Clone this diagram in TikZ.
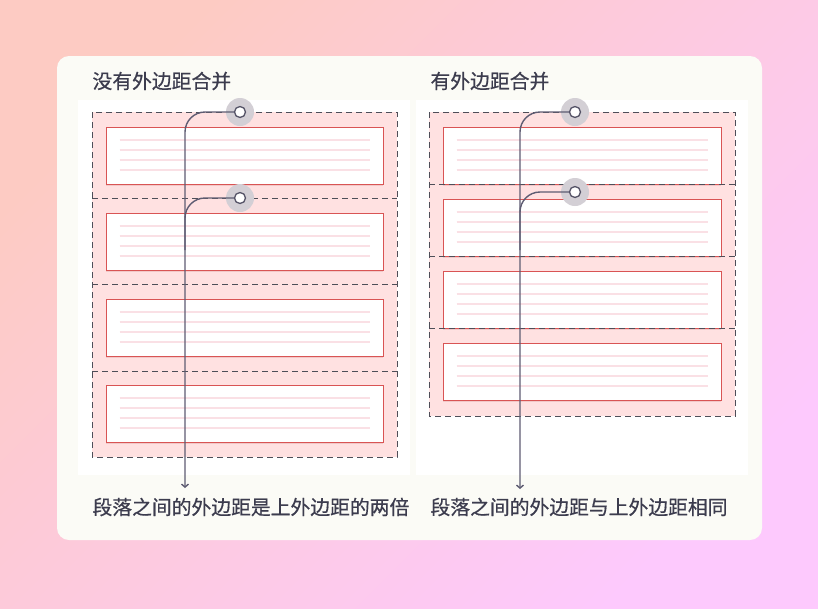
\documentclass[tikz,border=0pt]{standalone}
\usepackage{fontspec}
\newfontfamily\cjk[FakeBold=0.6]{Noto Sans CJK SC}
\usepackage{tikz}
\usetikzlibrary{arrows.meta, calc}
\usepackage{xcolor}
\definecolor{bgPeach}{HTML}{FDCBC3}
\definecolor{bgLilac}{HTML}{FDC9FD}
\definecolor{cardBg}{HTML}{FBFBF6}
\definecolor{marginPink}{HTML}{FFE1E1}
\definecolor{boxRed}{HTML}{D95454}
\definecolor{linePink}{RGB}{250,224,229}
\definecolor{shadowPink}{HTML}{F2C8C8}
\definecolor{dashGray}{HTML}{4E4E58}
\definecolor{haloGray}{HTML}{D3CFD5}
\definecolor{flowGray}{HTML}{5E5C72}
\definecolor{textDark}{HTML}{3C3C4E}
\tikzset{
    font=\cjk,
    >={Straight Barb[length=3pt, width=7pt]},
    % Areas
    panel/.style={fill=white},
    marginArea/.style={draw=dashGray, fill=marginPink, line width=1pt, dash pattern=on 6pt off 4pt},
    divider/.style={draw=dashGray, line width=1pt, dash pattern=on 6pt off 4pt},
    % Shapes
    paraBox/.style={rectangle, draw=boxRed, fill=white, line width=1pt, inner sep=0pt,
                    minimum width=277pt, minimum height=57pt,
                    preaction={fill=shadowPink, transform canvas={yshift=-2pt}}},
    textLine/.style={color=linePink, line width=2pt},
    halo/.style={circle, fill=haloGray, minimum size=28pt, inner sep=0pt},
    pin/.style={circle, draw=flowGray!90!black, fill=white, line width=1.3pt, minimum size=11pt, inner sep=0pt},
    % Flow & Labels
    flow/.style={draw=flowGray, line width=1.4pt, rounded corners=20pt},
    title/.style={anchor=west, text=textDark, font=\cjk\fontsize{19.8}{22}\selectfont},
    lbl/.style={anchor=west, text=textDark, font=\cjk\fontsize{19.8}{22}\selectfont}
}

\begin{document}
\begin{tikzpicture}[x=1pt, y=-1pt]
\useasboundingbox (0,0) rectangle (818,608);

% background and card
\shade[top color=bgPeach, bottom color=bgLilac, shading angle=45] (0,0) rectangle (818,608);
\fill[cardBg, rounded corners=12pt] (57,56) rectangle (762,540);
\fill[panel] (78,100) rectangle (410,475);
\fill[panel] (416,100) rectangle (748,475);

\node[title] (titleL) at (89,81) {没有外边距合并};
\node[title] (titleR) at (427,81) {有外边距合并};

% left: margins not collapsed
\draw[marginArea] (92,112) rectangle (397,457);
\foreach \i/\y in {1/155.5, 2/241.5, 3/327.5, 4/413.5}
    \node[paraBox] (pL\i) at (244.5,\y) {};
\foreach \y in {198, 284, 371}
    \draw[divider] (92,\y) -- (397,\y);

% right: margins collapsed
\draw[marginArea] (429,112) rectangle (735,416);
\foreach \i/\y in {1/155.5, 2/227.5, 3/299.5, 4/371.5}
    \node[paraBox, minimum width=278pt] (pR\i) at (582,\y) {};
\foreach \y in {184.5, 256.5, 328.5}
    \draw[divider] (429,\y) -- (735,\y);

% text lines
\foreach \s in {L,R}
  \foreach \i in {1,...,4}
    \foreach \d in {13,23,33,43}
      \draw[textLine] ($(p\s\i.north west)+(14,\d)$) -- ($(p\s\i.north east)+(-14,\d)$);

% pointers
\node[halo] (hL1) at (240,112) {};
\node[halo] (hL2) at (240,198) {};
\node[halo] (hR1) at (575,112) {};
\node[halo] (hR2) at (575,192) {};
\coordinate (tipL) at (185,488);
\coordinate (joinL) at (185,250);
\coordinate (tipR) at (520,489);
\coordinate (joinR) at (520,250);

\draw[flow, ->] (hL1.center) -| (tipL);
\draw[flow] (hL2.center) -| (joinL);
\draw[flow, ->] (hR1.center) -| (tipR);
\draw[flow] (hR2.center) -| (joinR);

\node[pin] (kL1) at (hL1) {};
\node[pin] (kL2) at (hL2) {};
\node[pin] (kR1) at (hR1) {};
\node[pin] (kR2) at (hR2) {};

\node[lbl] (noteL) at (89,507) {段落之间的外边距是上外边距的两倍};
\node[lbl] (noteR) at (427,507) {段落之间的外边距与上外边距相同};

\end{tikzpicture}
\end{document}
